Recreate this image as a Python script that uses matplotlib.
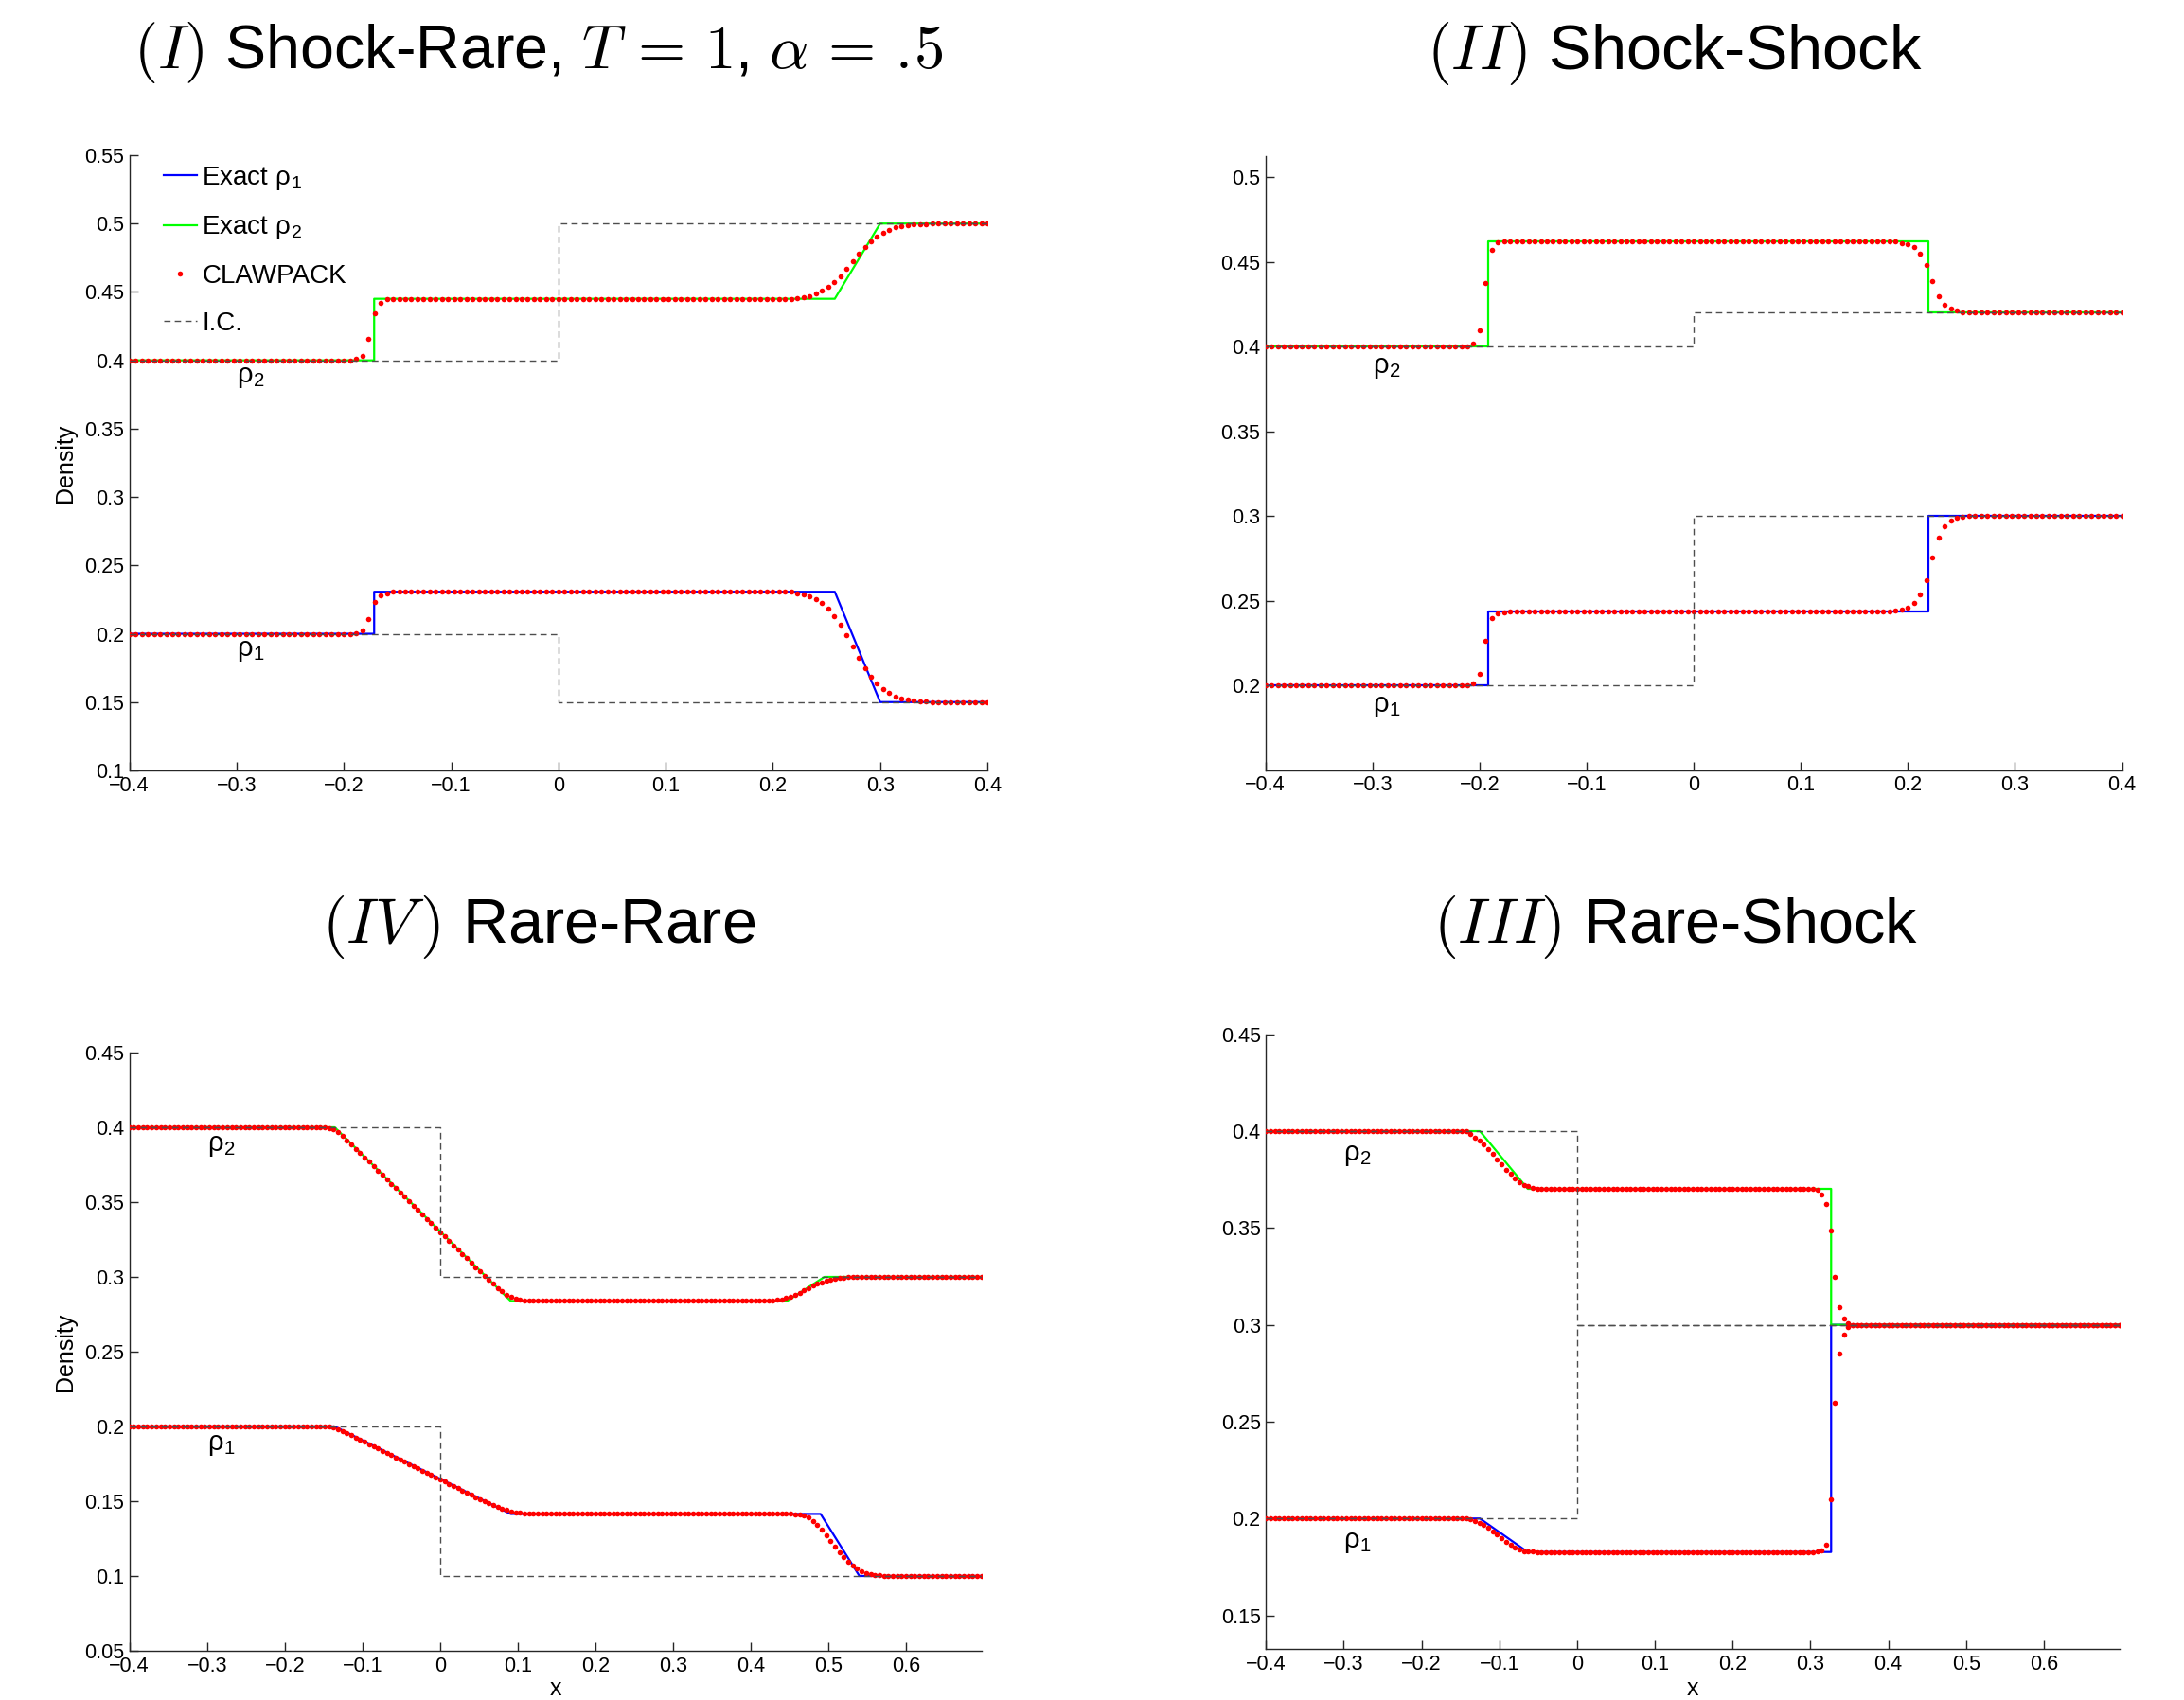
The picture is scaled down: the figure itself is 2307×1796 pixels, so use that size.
import numpy as np
import matplotlib
matplotlib.use("Agg")
import matplotlib.pyplot as plt
from matplotlib.lines import Line2D
from matplotlib.ticker import FuncFormatter

plt.rcParams['font.family'] = ['Liberation Sans', 'DejaVu Sans']
plt.rcParams['mathtext.fontset'] = 'cm'

# ---------------------------------------------------------------- grids
X_TOP = np.linspace(-0.4, 0.4, 141)          # cells for panels I and II
X_BOT = np.linspace(-0.4, 0.69714, 193)      # cells for panels III and IV

# ---------------------------------------------------------------- (I) Shock-Rare
exact_x_I = [-0.4, -0.1718, -0.1718, 0.2577, 0.30, 0.4]
exact_rho1_I = [0.2, 0.2, 0.2307, 0.2307, 0.15, 0.15]
exact_rho2_I = [0.4, 0.4, 0.445, 0.445, 0.5, 0.5]
ic_rho1_I = (0.2, 0.15)
ic_rho2_I = (0.4, 0.5)
claw_rho1_I = ([0.2] * 37
               + [0.2003, 0.2023, 0.2105, 0.2229, 0.228, 0.2297]
               + [0.2307] * 65
               + [0.2307, 0.2297, 0.2289, 0.2276, 0.2253, 0.2222, 0.2182, 0.2128,
                  0.2063, 0.1988, 0.1908, 0.1823, 0.1751, 0.1688, 0.1636, 0.1595,
                  0.1565, 0.1538, 0.1525, 0.1518, 0.1512, 0.1507, 0.1504]
               + [0.15] * 10)
claw_rho2_I = ([0.4] * 37
               + [0.401, 0.4035, 0.4157, 0.4344, 0.442, 0.4446]
               + [0.445] * 65
               + [0.4450, 0.4457, 0.4462, 0.4471, 0.4487, 0.4508, 0.4535, 0.4572,
                  0.4616, 0.4667, 0.4722, 0.4780, 0.4829, 0.4872, 0.4907, 0.4935,
                  0.4956, 0.4974, 0.4983, 0.4988, 0.4992, 0.4995, 0.4997]
               + [0.5] * 10)

# ---------------------------------------------------------------- (II) Shock-Shock
exact_x_II = [-0.4, -0.192, -0.192, 0.219, 0.219, 0.4]
exact_rho1_II = [0.2, 0.2, 0.2435, 0.2435, 0.3, 0.3]
exact_rho2_II = [0.4, 0.4, 0.4623, 0.4623, 0.42, 0.42]
ic_rho1_II = (0.2, 0.3)
ic_rho2_II = (0.4, 0.42)
claw_rho1_II = ([0.2] * 34
                + [0.201, 0.2065, 0.2261, 0.2398, 0.2427, 0.2433]
                + [0.2435] * 63
                + [0.2441, 0.2449, 0.2458, 0.2486, 0.2534, 0.2623, 0.2757, 0.2872,
                   0.2937, 0.2970, 0.2987, 0.2994]
                + [0.3] * 26)
claw_rho2_II = ([0.4] * 34
                + [0.4015, 0.4093, 0.4373, 0.457, 0.4612, 0.462]
                + [0.4623] * 63
                + [0.4620, 0.4611, 0.4604, 0.4587, 0.4548, 0.4483, 0.4383, 0.4295,
                   0.4247, 0.4221, 0.4210, 0.4204]
                + [0.42] * 26)

# ---------------------------------------------------------------- (III) Rare-Shock
exact_x_III = [-0.4, -0.125, -0.0635, 0.3265, 0.3265, 0.69714]
exact_rho1_III = [0.2, 0.2, 0.1827, 0.1827, 0.3, 0.3]
exact_rho2_III = [0.4, 0.4, 0.3702, 0.3702, 0.3, 0.3]
ic_rho1_III = (0.2, 0.3)
ic_rho2_III = (0.4, 0.3)
claw_rho1_III = ([0.2] * 46
                 + [0.1995, 0.1989, 0.1979, 0.1966, 0.1951, 0.1935, 0.1917, 0.1899,
                    0.1881, 0.1865, 0.185, 0.1839, 0.1832, 0.1829, 0.1828]
                 + [0.1827] * 63
                 + [0.1829, 0.1836, 0.1865, 0.21, 0.26, 0.2853, 0.295, 0.2988]
                 + [0.3] * 61)
claw_rho2_III = ([0.4] * 45 + [0.3999]
                 + [0.3985, 0.3967, 0.3951, 0.3932, 0.3909, 0.3881, 0.3854, 0.3827,
                    0.38, 0.3779, 0.3756, 0.3736, 0.3723, 0.3715, 0.3707, 0.3704,
                    0.3702]
                 + [0.3702] * 61
                 + [0.3696, 0.3673, 0.3624, 0.3487, 0.3248, 0.3092, 0.3033, 0.3010]
                 + [0.3] * 61)

# ---------------------------------------------------------------- (IV) Rare-Rare
exact_x1_IV = [-0.4, -0.1357, 0.091, 0.49, 0.54, 0.69714]
exact_rho1_IV = [0.2, 0.2, 0.1415, 0.1415, 0.1, 0.1]
exact_x2_IV = [-0.4, -0.1357, 0.091, 0.447, 0.495, 0.69714]
exact_rho2_IV = [0.4, 0.4, 0.2839, 0.2839, 0.3, 0.3]
ic_rho1_IV = (0.2, 0.1)
ic_rho2_IV = (0.4, 0.3)
claw_rho1_IV = ([0.2] * 44
                + [0.2, 0.1998, 0.1993, 0.1983, 0.197, 0.1956, 0.1941, 0.1926, 0.1911,
                   0.1897, 0.1882, 0.1867, 0.1852, 0.1838, 0.1823, 0.1808, 0.1793,
                   0.1779, 0.1764, 0.1749, 0.1734, 0.172, 0.1705, 0.169, 0.1675,
                   0.1661, 0.1646, 0.1631, 0.1616, 0.1602, 0.1587, 0.1572, 0.1557,
                   0.1543, 0.1528, 0.1514, 0.15, 0.1487, 0.1474, 0.1462, 0.1451,
                   0.1441, 0.1433, 0.1427, 0.1422, 0.1419, 0.1417]
                + [0.1415] * 59
                + [0.1414, 0.141, 0.1402, 0.139, 0.137, 0.1343, 0.1312, 0.1273,
                   0.1235, 0.1194, 0.1158, 0.1124, 0.1096, 0.107, 0.105, 0.1034,
                   0.1021, 0.1013, 0.1008, 0.1004, 0.1002]
                + [0.1] * 22)
claw_rho2_IV = ([0.4] * 44
                + [0.3999, 0.3995, 0.3985, 0.3966, 0.394, 0.3913, 0.3885, 0.3856,
                   0.3827, 0.3798, 0.3769, 0.374, 0.3711, 0.3681, 0.3652, 0.3623,
                   0.3593, 0.3564, 0.3535, 0.3505, 0.3476, 0.3447, 0.3417, 0.3388,
                   0.3359, 0.3329, 0.33, 0.3271, 0.3241, 0.3212, 0.3183, 0.3153,
                   0.3124, 0.3095, 0.3066, 0.3037, 0.3008, 0.298, 0.2953, 0.2927,
                   0.2903, 0.2882, 0.2865, 0.2853, 0.2845, 0.2841]
                + [0.2839] * 54
                + [0.284, 0.2842, 0.2845, 0.285, 0.2858, 0.2868, 0.288, 0.2895,
                   0.291, 0.2926, 0.294, 0.2953, 0.2964, 0.2974, 0.2982, 0.2988,
                   0.2993, 0.2996, 0.2998]
                + [0.3] * 30)

# ---------------------------------------------------------------- figure
W, H = 2307, 1796
fig = plt.figure(figsize=(W / 100, H / 100), dpi=100, facecolor='white')


def box(left, top, right, bottom):
    return [left / W, 1 - bottom / H, (right - left) / W, (bottom - top) / H]


def tick_fmt(v, _pos):
    s = '%g' % round(v, 4)
    return s.replace('-', '\u2212')


AX_COLOR = '0.15'
BLUE, GREEN, RED, IC_COLOR = (0, 0, 1), (0, 1, 0), (1, 0, 0), '0.3'
DOT = 4.0
DASH = (0, (4.8, 3.2))


def panel(rect, x, c1, c2, exact1, exact2, ic1, ic2, xlim, ylim, xticks, yticks):
    ax = fig.add_axes(box(*rect))
    ax.plot(*exact1, color=BLUE, lw=1.6, zorder=2)
    ax.plot(*exact2, color=GREEN, lw=1.6, zorder=2)
    ax.plot(x, c1, 'o', ms=DOT, mfc=RED, mec=RED, mew=0, zorder=3)
    ax.plot(x, c2, 'o', ms=DOT, mfc=RED, mec=RED, mew=0, zorder=3)
    for left, right in (ic1, ic2):
        ax.plot([xlim[0], 0, 0, xlim[1]], [left, left, right, right],
                ls=DASH, color=IC_COLOR, lw=1.0, zorder=4)
    ax.set_xlim(*xlim)
    ax.set_ylim(*ylim)
    for s in ('top', 'right'):
        ax.spines[s].set_visible(False)
    for s in ('left', 'bottom'):
        ax.spines[s].set_linewidth(1.0)
        ax.spines[s].set_color(AX_COLOR)
    ax.set_xticks(xticks)
    ax.set_yticks(yticks)
    ax.xaxis.set_major_formatter(FuncFormatter(tick_fmt))
    ax.yaxis.set_major_formatter(FuncFormatter(tick_fmt))
    ax.tick_params(direction='in', length=6.5, width=1.0, color=AX_COLOR,
                   labelsize=15.5, pad=4, labelcolor='black')
    ax.text(-0.3, 0.388, '\u03c1$_\\mathregular{2}$', fontsize=21,
            ha='left', va='center')
    ax.text(-0.3, 0.188, '\u03c1$_\\mathregular{1}$', fontsize=21,
            ha='left', va='center')
    return ax


xt_top = [-0.4, -0.3, -0.2, -0.1, 0, 0.1, 0.2, 0.3, 0.4]
xt_bot = [-0.4, -0.3, -0.2, -0.1, 0, 0.1, 0.2, 0.3, 0.4, 0.5, 0.6]

ax1 = panel((136.7, 164, 1043, 814), X_TOP, claw_rho1_I, claw_rho2_I,
            (exact_x_I, exact_rho1_I), (exact_x_I, exact_rho2_I),
            ic_rho1_I, ic_rho2_I, (-0.4, 0.4), (0.1, 0.55), xt_top,
            [0.1, 0.15, 0.2, 0.25, 0.3, 0.35, 0.4, 0.45, 0.5, 0.55])
ax2 = panel((1336.7, 165, 2241.5, 813.6), X_TOP, claw_rho1_II, claw_rho2_II,
            (exact_x_II, exact_rho1_II), (exact_x_II, exact_rho2_II),
            ic_rho1_II, ic_rho2_II, (-0.4, 0.4), (0.15, 0.5123), xt_top,
            [0.2, 0.25, 0.3, 0.35, 0.4, 0.45, 0.5])
ax4 = panel((136.7, 1112, 1036.7, 1744), X_BOT, claw_rho1_IV, claw_rho2_IV,
            (exact_x1_IV, exact_rho1_IV), (exact_x2_IV, exact_rho2_IV),
            ic_rho1_IV, ic_rho2_IV, (-0.4, 0.69714), (0.05, 0.45), xt_bot,
            [0.05, 0.1, 0.15, 0.2, 0.25, 0.3, 0.35, 0.4, 0.45])
ax3 = panel((1337.3, 1092.7, 2238.8, 1742), X_BOT, claw_rho1_III, claw_rho2_III,
            (exact_x_III, exact_rho1_III), (exact_x_III, exact_rho2_III),
            ic_rho1_III, ic_rho2_III, (-0.4, 0.69714), (0.1327, 0.45), xt_bot,
            [0.15, 0.2, 0.25, 0.3, 0.35, 0.4, 0.45])

# legend of panel I
handles = [Line2D([], [], color=BLUE, lw=1.6),
           Line2D([], [], color=GREEN, lw=1.6),
           Line2D([], [], ls='none', marker='o', ms=DOT, mfc=RED, mec=RED, mew=0),
           Line2D([], [], ls=DASH, color=IC_COLOR, lw=1.0)]
labels = ['Exact \u03c1$_\\mathregular{1}$', 'Exact \u03c1$_\\mathregular{2}$',
          'CLAWPACK', 'I.C.']
ax1.legend(handles, labels, loc='upper left', bbox_to_anchor=(0.04, 0.985),
           frameon=False, fontsize=20, handlelength=1.25, handletextpad=0.2,
           labelspacing=0.85, borderaxespad=0, borderpad=0)

# axis labels
for ax in (ax1, ax4):
    ax.set_ylabel('Density', fontsize=18, ha='center', va='center')
for ax in (ax4, ax3):
    ax.set_xlabel('x', fontsize=18, ha='center', va='center')
ax1.yaxis.set_label_coords((69 - 136.7) / 906.3, 0.5)
ax4.yaxis.set_label_coords((69 - 136.7) / 900.0, 0.5)
ax4.xaxis.set_label_coords(0.5, (1744 - 1784) / 632)
ax3.xaxis.set_label_coords(0.5, (1742 - 1784) / 649.3)

# panel titles
titles = [(569, 56, 46.5, r'$(I)$ Shock-Rare, $T\,=\,1$, $\alpha\,=\,.\!5$'),
          (1769, 56, 48, r'$(II)$ Shock-Shock'),
          (569, 980, 48, r'$(IV\,)$ Rare-Rare'),
          (1770, 980, 48, r'$(III)$ Rare-Shock')]
for cx, cy, size, t in titles:
    fig.text(cx / W, 1 - cy / H, t, ha='center', va='center', fontsize=size,
             math_fontfamily='cm')

fig.savefig('out.png', dpi=100, facecolor='white')
